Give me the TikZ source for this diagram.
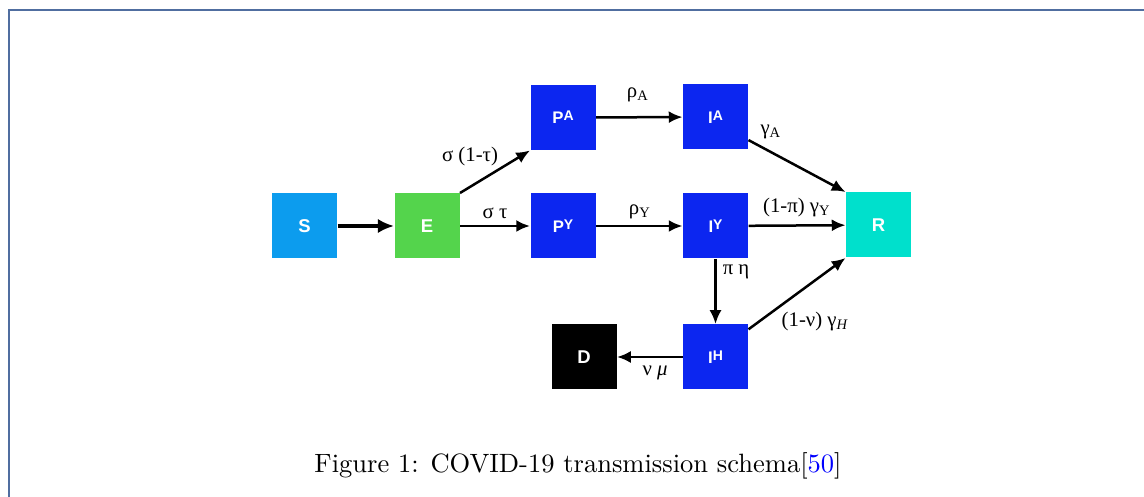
\documentclass[tikz,border=0pt]{standalone}
\usepackage{fontspec}
\usepackage{tikz}
\usetikzlibrary{arrows.meta}

\newfontfamily\boxfont{Liberation Sans}
\newfontfamily\ratefont{Liberation Serif}

\definecolor{susc}{RGB}{12,156,238}
\definecolor{expo}{RGB}{84,212,76}
\definecolor{infc}{RGB}{12,38,240}
\definecolor{recv}{RGB}{0,224,204}
\definecolor{framecol}{RGB}{80,110,160}

% raised class letter on the infectious compartments
\newcommand{\cmpsup}[1]{\raisebox{1.3pt}{\fontsize{5.6}{6}\selectfont #1}}

\tikzset{
	comp/.style={minimum width=26pt, minimum height=26pt, inner sep=0pt, text=white,
		font=\boxfont\bfseries\fontsize{7.4}{9}\selectfont},
	subcomp/.style={comp, fill=infc, font=\boxfont\bfseries\fontsize{6.7}{8}\selectfont},
	flow/.style={line width=1pt, -{Latex[length=5.5pt,width=4.8pt]}},
	rate/.style={inner sep=0pt, font=\ratefont\fontsize{8.3}{10}\selectfont},
}

\begin{document}
\begin{tikzpicture}[x=0.4pt, y=-0.4pt]
			\useasboundingbox (0,0) rectangle (1144,497);
			\draw[framecol, line width=0.6pt] (9,497) -- (9,10) -- (1144,10);
			% compartments
			\node[comp, fill=susc] (S) at (304.5,226) {S};
			\node[comp, fill=expo] (E) at (427,226) {E};
			\node[subcomp] (PA) at (563,117.5) {P\cmpsup{A}};
			\node[subcomp] (IA) at (715.5,117) {I\cmpsup{A}};
			\node[subcomp] (PY) at (563,226) {P\cmpsup{Y}};
			\node[subcomp] (IY) at (715.5,226) {I\cmpsup{Y}};
			\node[subcomp] (IH) at (715.5,357) {I\cmpsup{H}};
			\node[comp, fill=black] (D) at (584,357) {D};
			\node[comp, fill=recv] (R) at (878.5,225) {R};
			% flows
			\draw[flow, line width=1.4pt, -{Latex[length=6.5pt,width=5.8pt]}] (S) -- (E);
			\draw[flow] (E.north east) -- (PA.south west);
			\draw[flow] (E) -- (PY);
			\draw[flow] (PA) -- (IA);
			\draw[flow] (PY) -- (IY);
			\draw[flow] (IA.-35) -- (R.north west);
			\draw[flow] (IY) -- (R);
			\draw[flow] (IY) -- (IH);
			\draw[flow] (IH.40) -- (R.south west);
			\draw[flow] (IH) -- (D);
			% rates
			\node[rate] (sig1) at (470,157) {σ (1-τ)};
			\node[rate] (sig2) at (495,213) {σ τ};
			\node[rate] (rhoA) at (638,95) {ρ\textsubscript{A}};
			\node[rate] (rhoY) at (640,212) {ρ\textsubscript{Y}};
			\node[rate] (gamA) at (771,132) {γ\textsubscript{A}};
			\node[rate] (gamY) at (797,208) {(1-π) γ\textsubscript{Y}};
			\node[rate] (pieta) at (736,272) {π η};
			\node[rate] (gamH) at (815,322) {(1-ν) γ\textsubscript{\itshape H}};
			\node[rate] (numu) at (655,373) {ν {\itshape μ}};
			% caption
			\node (caption) at (578,466) {\fontsize{10.6}{13}\selectfont Figure 1: COVID-19 transmission schema[\textcolor{blue}{50}]};
		\end{tikzpicture}
\end{document}
